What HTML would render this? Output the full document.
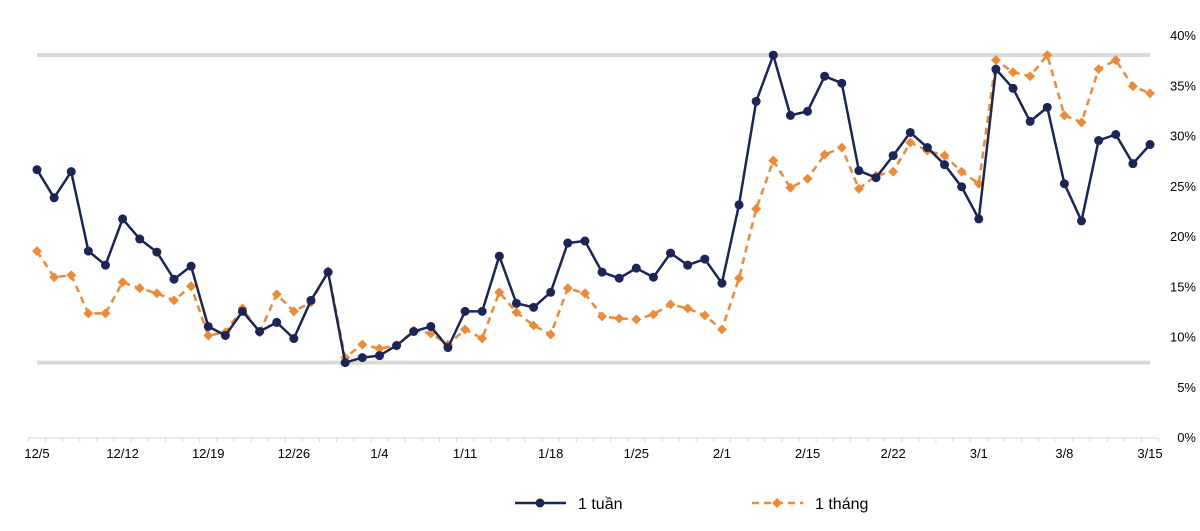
<!DOCTYPE html>
<html><head><meta charset="utf-8"><style>
body{margin:0;background:#fff;}
svg{display:block;font-family:"Liberation Sans",Arial,sans-serif;}
</style></head><body>
<svg id="chart" width="1200" height="531" xmlns="http://www.w3.org/2000/svg">
<g id="grid"></g>
<g id="axes"></g>
<g id="series"></g>
<g>
  <g>
    <line x1="515" y1="503" x2="566" y2="503" stroke="#1b2557" stroke-width="2.5"/>
    <circle cx="540" cy="503" r="4.5" fill="#1b2557"/>
    <text x="578" y="509" font-size="16" fill="#000">1 tuần</text>
  </g>
  <g>
    <line x1="752" y1="503" x2="803" y2="503" stroke="#ee8a35" stroke-width="2.5" stroke-dasharray="7,5"/>
    <rect x="773.5" y="499.5" width="7" height="7" fill="#ee8a35" transform="rotate(45 777 503)"/>
    <text x="815" y="509" font-size="16" fill="#000">1 tháng</text>
  </g>
</g>
</svg>
<script>
const weekly=[26.6,23.8,26.4,18.5,17.1,21.7,19.7,18.4,15.7,17.0,11.0,10.1,12.5,10.5,11.4,9.8,13.6,16.4,7.4,7.9,8.1,9.1,10.5,11.0,8.9,12.5,12.5,18.0,13.3,12.9,14.4,19.3,19.5,16.4,15.8,16.8,15.9,18.3,17.1,17.7,15.3,23.1,33.4,38.0,32.0,32.4,35.9,35.2,26.5,25.8,28.0,30.3,28.8,27.1,24.9,21.7,36.6,34.7,31.4,32.8,25.2,21.5,29.5,30.1,27.2,29.1];
const monthly=[18.5,15.9,16.1,12.3,12.3,15.4,14.8,14.3,13.6,15.0,10.1,10.4,12.8,10.4,14.2,12.5,13.4,16.5,7.9,9.2,8.8,9.1,10.6,10.3,9.2,10.7,9.8,14.4,12.4,11.1,10.2,14.8,14.3,12.0,11.8,11.7,12.2,13.2,12.8,12.1,10.7,15.8,22.7,27.5,24.8,25.7,28.1,28.8,24.7,26.0,26.4,29.3,28.5,28.0,26.4,25.2,37.5,36.3,35.9,38.0,32.0,31.3,36.6,37.5,34.9,34.2];
const xLabels=["12/5","12/12","12/19","12/26","1/4","1/11","1/18","1/25","2/1","2/15","2/22","3/1","3/8","3/15"];
const yTicks=[0,5,10,15,20,25,30,35,40];
const refLines=[38,7.4];

const NS="http://www.w3.org/2000/svg";
const X0=37,X1=1150,Y0=437,Y1=35;
const n=weekly.length;
const xs=i=>X0+(X1-X0)*i/(n-1);
const ys=v=>Y0-(Y0-Y1)*v/40;
function mk(tag,attrs,parent){const e=document.createElementNS(NS,tag);for(const k in attrs)e.setAttribute(k,attrs[k]);parent.appendChild(e);return e;}
const grid=document.getElementById('grid'),axes=document.getElementById('axes'),ser=document.getElementById('series');

refLines.forEach(v=>{
  const l=mk('line',{x1:X0,x2:X1,y1:ys(v),y2:ys(v),stroke:'#d9d9d9','stroke-width':4},grid);
  
  
});
const ax=mk('line',{x1:xs(-0.5),x2:xs(n-0.5),y1:438,y2:438,stroke:'#d9d9d9','stroke-width':1},axes);


for(let i=0;i<=n;i++){
  const x=xs(i-0.5);
  const t=mk('line',{x1:x,x2:x,y1:438,y2:442,stroke:'#d9d9d9','stroke-width':1},axes);
  
  
}
xLabels.forEach((s,k)=>{
  const t=mk('text',{x:xs(k*5),y:458,'font-size':13,'text-anchor':'middle',fill:'#000'},axes);
  t.textContent=s;
  
  
});
yTicks.forEach(v=>{
  const t=mk('text',{x:1196,y:ys(v)+5,'font-size':13,'text-anchor':'end',fill:'#000'},axes);
  t.textContent=v+'%';
  
  
});
function pts(a){return a.map((v,i)=>xs(i).toFixed(1)+','+ys(v).toFixed(1)).join(' ');}
const pm=mk('polyline',{points:pts(monthly),fill:'none',stroke:'#ee8a35','stroke-width':2.5,'stroke-dasharray':'7,5'},ser);


monthly.forEach((v,i)=>{
  const x=xs(i),y=ys(v);
  const r=mk('rect',{x:x-3.5,y:y-3.5,width:7,height:7,fill:'#ee8a35',transform:`rotate(45 ${x} ${y})`},ser);
  
  
});
const pw=mk('polyline',{points:pts(weekly),fill:'none',stroke:'#1b2557','stroke-width':2.5},ser);


weekly.forEach((v,i)=>{
  const c=mk('circle',{cx:xs(i),cy:ys(v),r:4.5,fill:'#1b2557'},ser);
  
  
});
</script>
</body></html>
